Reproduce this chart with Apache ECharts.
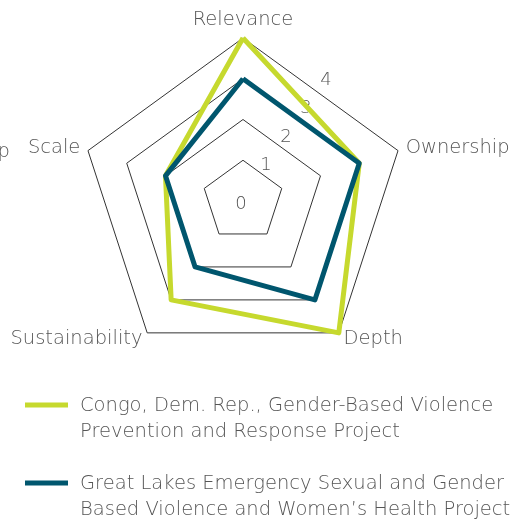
<!DOCTYPE html>
<html><head><meta charset="utf-8">
<script src="https://cdn.jsdelivr.net/npm/echarts@6/dist/echarts.min.js"></script>
<style>html,body{margin:0;padding:0;background:#fff}#c{width:517px;height:520px}</style>
</head><body><div id="c"></div>
<script>
// indicators in ECharts order (counter-clockwise from top)
const indicators = ['Relevance', 'Scale', 'Sustainability', 'Depth', 'Ownership'];
const seriesNames = [
  'Congo, Dem. Rep., Gender-Based Violence\nPrevention and Response Project',
  'Great Lakes Emergency Sexual and Gender\nBased Violence and Women\u2019s Health Project'
];
const congoValues = [4, 2, 3, 4, 3];
const greatLakesValues = [3, 2, 2, 3, 3];
const tickLabels = ['0', '1', '2', '3', '4'];

const FONT = "'DejaVu Sans'";
const W = 200;
const FS = 19.5;
const colors = ['#c6d92e', '#00566e'];
const cx = 243, cy = 201, R = 163;

const chart = echarts.init(document.getElementById('c'), null, {renderer: 'canvas'});

const graphic = [];
tickLabels.forEach((t, k) => {
  const x = k === 0 ? cx - 2 : cx + k * 20 + 3;
  const y = k === 0 ? cy + 3 : cy - k * 28.5 - 7;
  graphic.push({type: 'text', x: x, y: y, style: {text: t, font: W + ' 18px ' + FONT, fill: '#555', align: 'center', verticalAlign: 'middle'}});
});
const legendY = [405, 483];
seriesNames.forEach((n, i) => {
  graphic.push({type: 'rect', shape: {x: 25, y: legendY[i] - 2.5, width: 43, height: 5}, style: {fill: colors[i]}});
  graphic.push({type: 'text', x: 80, y: legendY[i] - 12, style: {text: n, font: W + ' ' + FS + 'px ' + FONT, fill: '#555', lineHeight: 26, verticalAlign: 'top'}});
});
graphic.push({type: 'text', x: 10, y: 152, style: {text: 'p', font: W + ' ' + FS + 'px ' + FONT, fill: '#555', align: 'right', verticalAlign: 'middle'}});

chart.setOption({
  animation: false,
  radar: {
    center: [cx, cy],
    radius: R,
    shape: 'polygon',
    splitNumber: 4,
    startAngle: 90,
    indicator: indicators.map(n => ({name: n, min: 0, max: 4})),
    axisName: {color: '#555', fontFamily: FONT, fontWeight: W, fontSize: FS},
    nameGap: 8,
    axisLine: {show: false},
    splitLine: {lineStyle: {color: '#333', width: 1}},
    splitArea: {show: false}
  },
  series: [{
    type: 'radar',
    symbol: 'none',
    data: [
      {name: seriesNames[0], value: congoValues, lineStyle: {color: colors[0], width: 5}, itemStyle: {color: colors[0]}},
      {name: seriesNames[1], value: greatLakesValues, lineStyle: {color: colors[1], width: 5}, itemStyle: {color: colors[1]}}
    ]
  }],
  graphic: graphic
});
</script></body></html>
